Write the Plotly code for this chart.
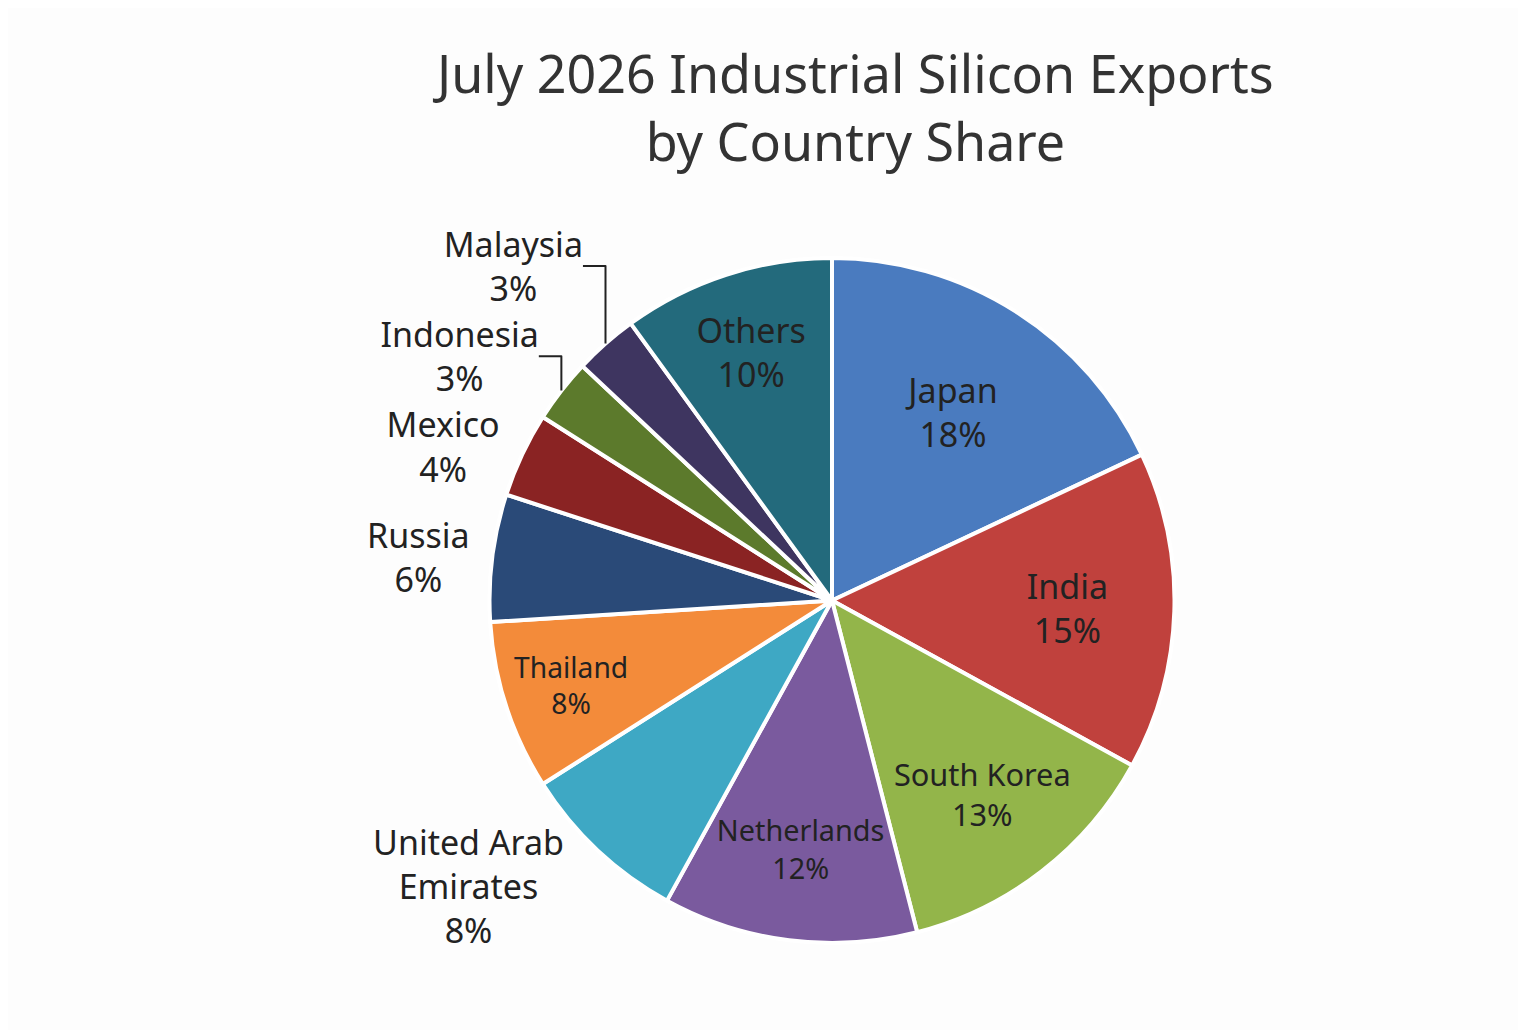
import plotly.graph_objects as go

countries = ["Japan", "India", "South Korea", "Netherlands", "United Arab<br>Emirates",
             "Thailand", "Russia", "Mexico", "Indonesia", "Malaysia", "Others"]
shares = [18, 15, 13, 12, 8, 8, 6, 4, 3, 3, 10]
colors = ["#4a7bbf", "#c0413d", "#93b54a", "#7a5a9e", "#3ea8c4", "#f38b3a",
          "#2a4a78", "#8a2323", "#5c7a2c", "#3e3560", "#236a7c"]
positions = ["inside", "inside", "inside", "inside", "outside", "inside",
             "outside", "outside", "outside", "outside", "inside"]
title_text = "July 2026 Industrial Silicon Exports<br>by Country Share"

fig = go.Figure(go.Pie(
    labels=countries, values=shares, sort=False, direction="clockwise", rotation=0,
    marker=dict(colors=colors, line=dict(color="white", width=4)),
    texttemplate="%{label}<br>%{percent:.0%}", textposition=positions,
    insidetextorientation="horizontal",
    textfont=dict(size=34, color="#222222", family="Noto Sans"),
    outsidetextfont=dict(size=34, color="#222222"),
    insidetextfont=dict(size=34, color="#222222"),
    showlegend=False,
))
fig.update_layout(
    width=1526, height=1030,
    paper_bgcolor="#fdfdfd", plot_bgcolor="#fdfdfd",
    margin=dict(l=0, r=60, t=250, b=95),
    annotations=[dict(text=title_text, x=0.52, xref="paper", xanchor="center",
                      y=1, yref="paper", yanchor="bottom", yshift=80, showarrow=False,
                      font=dict(size=52, color="#333333", family="Noto Sans"))],
)
fig.write_html("out.html")
